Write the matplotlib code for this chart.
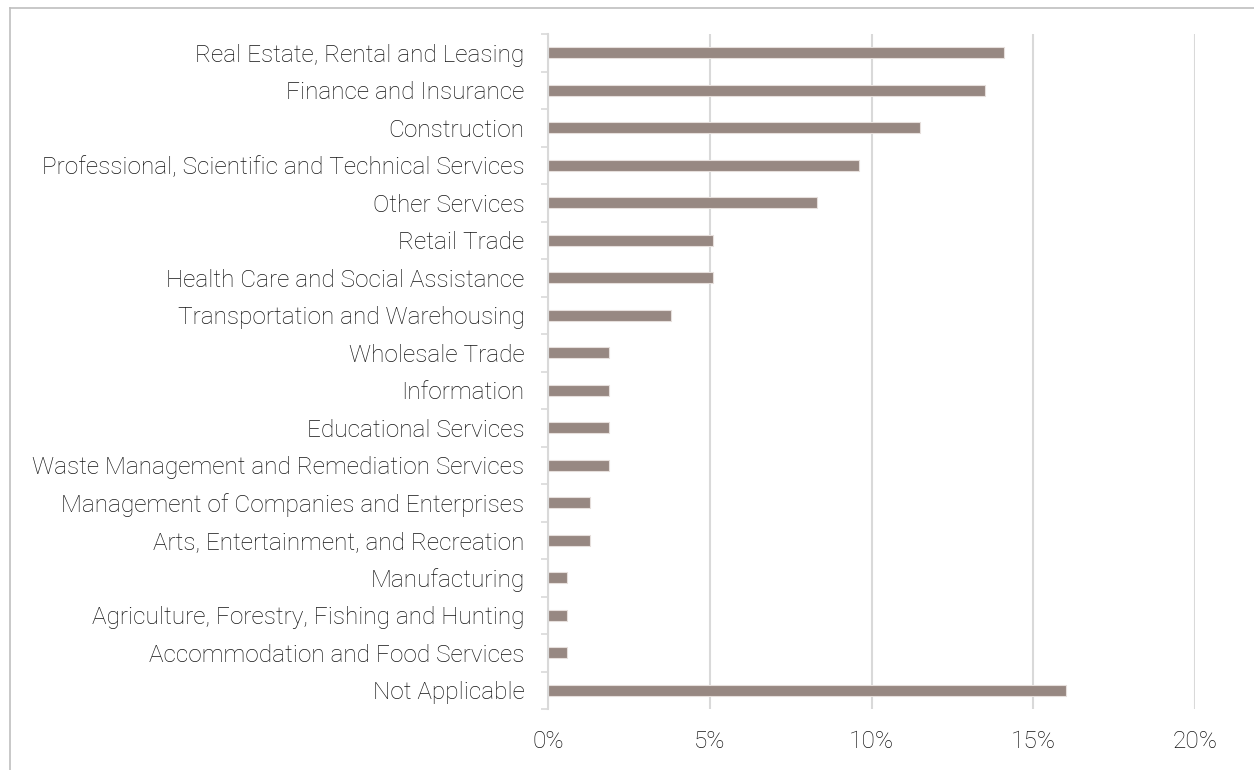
import matplotlib
matplotlib.use("Agg")
import matplotlib.pyplot as plt
from matplotlib.lines import Line2D
from matplotlib.ticker import FuncFormatter, FixedLocator

industries = [
    "Real Estate, Rental and Leasing",
    "Finance and Insurance",
    "Construction",
    "Professional, Scientific and Technical Services",
    "Other Services",
    "Retail Trade",
    "Health Care and Social Assistance",
    "Transportation and Warehousing",
    "Wholesale Trade",
    "Information",
    "Educational Services",
    "Waste Management and Remediation Services",
    "Management of Companies and Enterprises",
    "Arts, Entertainment, and Recreation",
    "Manufacturing",
    "Agriculture, Forestry, Fishing and Hunting",
    "Accommodation and Food Services",
    "Not Applicable",
]
shares = [14.1, 13.5, 11.5, 9.6, 8.3, 5.1, 5.1, 3.8, 1.9, 1.9, 1.9, 1.9,
          1.3, 1.3, 0.6, 0.6, 0.6, 16.0]
x_ticks = [0, 5, 10, 15, 20]

plt.rcParams["font.family"] = ["Roboto", "DejaVu Sans"]
text_color = "#141414"
grid_color = "#d9d9d9"
bar_color = "#978882"
font_size = 17.6

fig = plt.figure(figsize=(12.54, 7.70), dpi=100)
ax = fig.add_axes([548 / 1254, 61 / 770, (1195 - 548) / 1254, (736 - 61) / 770])

n = len(industries)
ypos = list(range(n))
ax.barh(ypos, shares, height=0.29, color=bar_color, edgecolor="#e6dfdc",
        linewidth=0.8, zorder=3)

ax.set_ylim(n - 0.5, -0.5)
ax.set_xlim(0, 20)
ax.set_yticks(ypos)
ax.set_yticklabels(industries, fontsize=font_size, fontweight="light", color=text_color)
ax.yaxis.set_minor_locator(FixedLocator([i - 0.5 for i in range(n + 1)]))
ax.tick_params(axis="y", which="major", length=0, pad=17)
ax.tick_params(axis="y", which="minor", length=5, width=1.2, color=grid_color)

ax.xaxis.set_major_locator(FixedLocator(x_ticks))
ax.xaxis.set_major_formatter(FuncFormatter(lambda v, p: f"{v:.0f}%"))
ax.tick_params(axis="x", length=0, pad=15, labelsize=font_size, labelcolor=text_color)
for lbl in ax.get_xticklabels():
    lbl.set_fontweight("light")

ax.grid(axis="x", color=grid_color, linewidth=1.5, zorder=0)
ax.set_axisbelow(True)
for side in ["top", "right", "bottom"]:
    ax.spines[side].set_visible(False)
ax.spines["left"].set_color(grid_color)
ax.spines["left"].set_linewidth(1.5)
ax.spines["left"].set_zorder(4)

# outer frame along the top and left edges
frame_color = "#bfbfbf"
W, H = 1254, 770
fig.add_artist(Line2D([10 / W, 1.0], [1 - 8 / H, 1 - 8 / H], transform=fig.transFigure,
                      color=frame_color, linewidth=1.2))
fig.add_artist(Line2D([10 / W, 10 / W], [0.0, 1 - 8 / H], transform=fig.transFigure,
                      color=frame_color, linewidth=1.2))

fig.savefig("out.png", dpi=100, facecolor="white")
